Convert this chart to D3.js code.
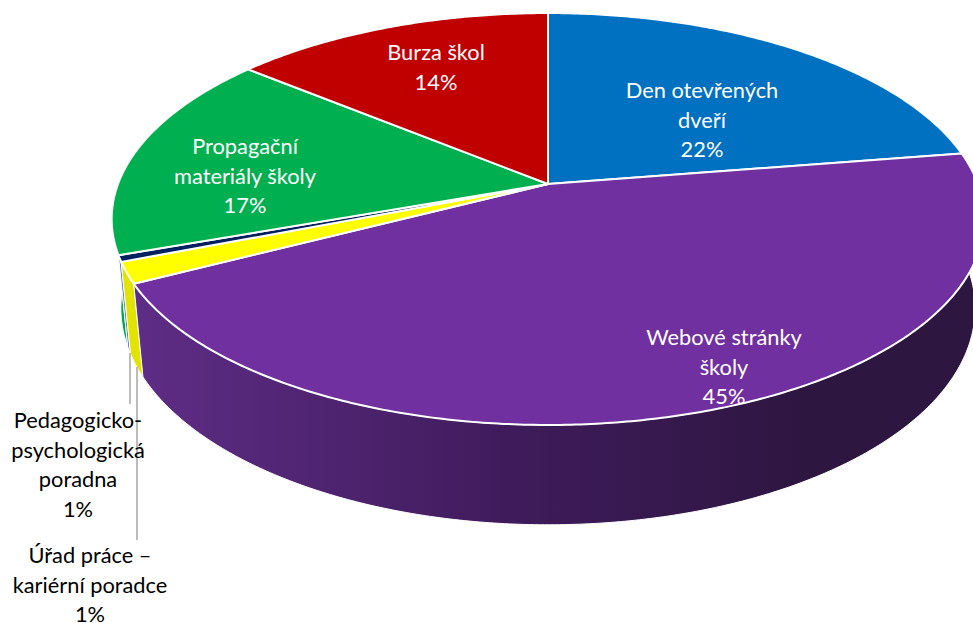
<!DOCTYPE html>
<html>
<head>
<meta charset="utf-8">
<script src="https://cdn.jsdelivr.net/npm/d3@7"></script>
<style>
  html, body { margin: 0; padding: 0; background: #fff; overflow: hidden; }
  svg { display: block; }
  text { font-family: Lato, "Open Sans", sans-serif; font-size: 21.8px; text-anchor: middle; }
</style>
</head>
<body>
<div id="chart"></div>
<script>
// slice sizes as measured on the picture, clockwise from 12 o'clock
let categories = ['Den otevřených dveří', 'Webové stránky školy', 'Úřad práce – kariérní poradce',
    'Pedagogicko-psychologická poradna', 'Propagační materiály školy', 'Burza škol'];
let shares = [22.5, 44.9, 1.65, 0.5, 16.4, 14.05];
let percentLabels = ['22%', '45%', '1%', '1%', '17%', '14%'];
let sliceColors = ['#0070c0', '#7030a0', '#ffff00', '#002060', '#00b050', '#c00000'];
let wallColors = ['#0070c0', 'url(#wallPurple)', '#e3e300', '#5f7fb0', '#00a54b', '#c00000'];

// label lines, one row per slice: wrapped text, centre x, first baseline, colour
let labelLines = [
    ['Den otevřených', 'dveří'],
    ['Webové stránky', 'školy'],
    ['Úřad práce –', 'kariérní poradce'],
    ['Pedagogicko-', 'psychologická', 'poradna'],
    ['Propagační', 'materiály školy'],
    ['Burza škol']
];
let labelX = [702, 724, 90, 78, 245, 436];
let labelY = [98, 345, 563, 428, 154, 60];
let labelFill = ['#fff', '#fff', '#000', '#000', '#fff', '#fff'];
let lineStep = 29.5;

const width = 973, height = 623;

// perspective of the tilted disc: apex of the slices and projection constants
const apexX = 548, apexY = 184;
const discX = 430, discY = 200, tilt = 0.17;
const dropY = 90, dropW = 0.021;

function project(angle, low) {
    let u = Math.sin(angle), v = -Math.cos(angle);
    let w = 1 - tilt * v + (low ? dropW : 0);
    return [apexX + discX * u / w, apexY + (discY * v + (low ? dropY : 0)) / w];
}

function arcPoints(a0, a1, low) {
    let n = Math.max(2, Math.ceil(Math.abs(a1 - a0) / 0.01));
    return d3.range(n + 1).map(i => project(a0 + (a1 - a0) * i / n, low));
}

let svg = d3.select('#chart').append('svg')
    .attr('width', width)
    .attr('height', height);

let grad = svg.append('defs').append('linearGradient')
    .attr('id', 'wallPurple')
    .attr('gradientUnits', 'userSpaceOnUse')
    .attr('x1', 135).attr('x2', 973).attr('y1', 0).attr('y2', 0);
grad.append('stop').attr('offset', 0).attr('stop-color', '#5e2d86');
grad.append('stop').attr('offset', 0.45).attr('stop-color', '#3f1b5b');
grad.append('stop').attr('offset', 0.8).attr('stop-color', '#2d1640');
grad.append('stop').attr('offset', 1).attr('stop-color', '#2d1640');

let slices = d3.pie().sort(null).value(d => d)(shares);
let line = d3.line();

// side walls first, back to front, so the top face covers whatever is hidden
let wallOrder = [0, 5, 4, 3, 2, 1];
svg.append('g').selectAll('path')
    .data(wallOrder)
    .enter()
    .append('path')
    .attr('d', i => {
        let s = slices[i];
        return line(arcPoints(s.startAngle, s.endAngle, false)
            .concat(arcPoints(s.endAngle, s.startAngle, true))) + 'Z';
    })
    .attr('fill', i => wallColors[i])
    .attr('stroke', '#fff')
    .attr('stroke-width', 1);

svg.append('g').selectAll('path')
    .data(slices)
    .enter()
    .append('path')
    .attr('d', s => line([[apexX, apexY]].concat(arcPoints(s.startAngle, s.endAngle, false))) + 'Z')
    .attr('fill', (s, i) => sliceColors[i])
    .attr('stroke', '#fff')
    .attr('stroke-width', 2)
    .attr('stroke-linejoin', 'round');

// leader lines for the two small slices
let leaders = [[130, 353, 404], [137, 367, 540]];
svg.append('g').selectAll('line')
    .data(leaders)
    .enter()
    .append('line')
    .attr('x1', d => d[0]).attr('x2', d => d[0])
    .attr('y1', d => d[1]).attr('y2', d => d[2])
    .attr('stroke', '#a6a6a6')
    .attr('stroke-width', 1.5);

let labels = svg.append('g').selectAll('text')
    .data(categories)
    .enter()
    .append('text')
    .attr('fill', (d, i) => labelFill[i])
    .attr('aria-label', d => d);

labels.each(function(d, i) {
    let rows = labelLines[i].concat([percentLabels[i]]);
    d3.select(this).selectAll('tspan')
        .data(rows)
        .enter()
        .append('tspan')
        .attr('x', labelX[i])
        .attr('y', (r, j) => labelY[i] + j * lineStep)
        .text(r => r);
});
</script>
</body>
</html>
